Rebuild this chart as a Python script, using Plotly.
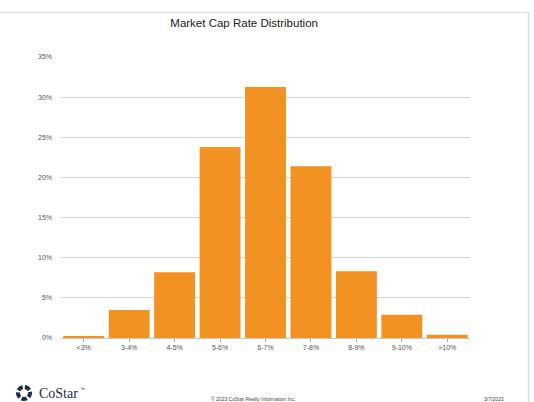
import math
import plotly.graph_objects as go

categories = ["<3%", "3-4%", "4-5%", "5-6%", "6-7%", "7-8%", "8-9%", "9-10%", ">10%"]
shares = [0.2, 3.5, 8.2, 23.8, 31.25, 21.4, 8.3, 2.9, 0.4]
y_ticks = [0, 5, 10, 15, 20, 25, 30, 35]
y_tick_labels = [f"{v}%" for v in y_ticks]

W, H = 534, 402
L, R, T, B = 61, 64, 57, 64
PW, PH = W - L - R, H - T - B


def px(x):
    return (x - L) / PW


def py(y):
    return (H - B - y) / PH


fig = go.Figure()
fig.add_trace(go.Bar(
    x=categories, y=shares,
    marker=dict(color="#F29222", line=dict(width=0)),
    hoverinfo="skip",
))

shapes = []
# page frame lines
shapes.append(dict(type="line", xref="paper", yref="paper", x0=px(0), x1=px(529), y0=py(12.5), y1=py(12.5),
                   line=dict(color="#dcdcdc", width=1.2)))
shapes.append(dict(type="line", xref="paper", yref="paper", x0=px(528.5), x1=px(528.5), y0=py(12.5), y1=py(402),
                   line=dict(color="#dcdcdc", width=1.5)))

# CoStar logo ring (decorative)
cx, cy, ro, ri = 24, 393, 8.0, 4.0
for k in range(5):
    a0 = math.radians(k * 72 + 8 - 90)
    a1 = math.radians(k * 72 + 60 - 90)
    pts = []
    n = 6
    for i in range(n + 1):
        a = a0 + (a1 - a0) * i / n
        pts.append((cx + ro * math.cos(a), cy + ro * math.sin(a)))
    for i in range(n, -1, -1):
        a = a0 + (a1 - a0) * i / n
        pts.append((cx + ri * math.cos(a), cy + ri * math.sin(a)))
    path = "M " + " L ".join(f"{px(x):.5f},{py(y):.5f}" for x, y in pts) + " Z"
    shapes.append(dict(type="path", xref="paper", yref="paper", path=path,
                       fillcolor="#1d2d50", line=dict(width=0)))

sans = "Liberation Sans, Arial, sans-serif"
annotations = [
    dict(text="CoStar", x=px(37), y=py(393), xref="paper", yref="paper", xanchor="left", yanchor="middle",
         showarrow=False, font=dict(family="Liberation Serif, DejaVu Serif, serif", size=14, color="#1d2d50")),
    dict(text="™", x=px(78), y=py(389), xref="paper", yref="paper", xanchor="left", yanchor="middle",
         showarrow=False, font=dict(family=sans, size=5, color="#1d2d50")),
    dict(text="© 2023 CoStar Realty Information Inc.", x=px(253), y=py(398.5), xref="paper", yref="paper",
         xanchor="center", yanchor="middle", showarrow=False,
         font=dict(family=sans, size=5, color="#444")),
    dict(text="3/7/2023", x=px(506), y=py(398.5), xref="paper", yref="paper",
         xanchor="right", yanchor="middle", showarrow=False,
         font=dict(family=sans, size=5, color="#444")),
]

fig.update_layout(
    width=W, height=H,
    margin=dict(l=L, r=R, t=T, b=B),
    paper_bgcolor="white", plot_bgcolor="white",
    bargap=0.1,
    showlegend=False,
    title=dict(text="Market Cap Rate Distribution", x=px(248), xanchor="center", y=1 - 22.5 / H, yanchor="middle",
               font=dict(family=sans, size=11.5, color="#222")),
    font=dict(family=sans, size=7, color="#555"),
    shapes=shapes,
    annotations=annotations,
)
fig.update_xaxes(
    showline=True, linecolor="#c8c8c8", linewidth=1,
    ticks="outside", ticklen=3, tickcolor="#aaa", tickwidth=1,
    showgrid=False, tickfont=dict(size=7, color="#555"),
)
fig.update_yaxes(
    range=[0, 35], tickvals=y_ticks, ticktext=y_tick_labels,
    showgrid=True, gridcolor="#d4d4d4", gridwidth=1, zeroline=False,
    tickfont=dict(size=7, color="#555"), ticks="", ticklabelstandoff=8,
)

fig.write_html("out.html")
